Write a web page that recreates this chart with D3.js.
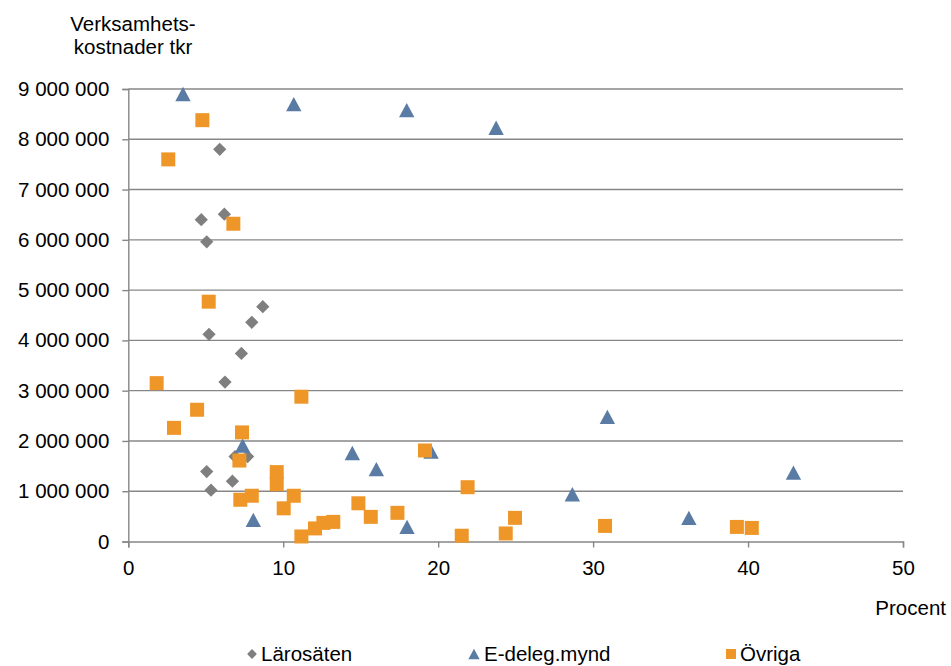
<!DOCTYPE html>
<html>
<head>
<meta charset="utf-8">
<script src="https://cdn.jsdelivr.net/npm/d3@7/dist/d3.min.js"></script>
<style>
  html, body { margin: 0; padding: 0; background: #ffffff; }
  svg { display: block; }
  text { font-family: "Liberation Sans", Arial, sans-serif; fill: #000; }
</style>
</head>
<body>
<svg id="chart" width="951" height="666"></svg>
<script>
// Universities (Lärosäten): share in percent vs. operating costs in tkr
const larosatenPct = [5.9, 4.71, 6.2, 5.06, 8.68, 7.97, 5.21, 7.3, 6.24, 6.89, 7.7, 5.06, 5.34, 6.72];
const larosatenCost = [7800000, 6400000, 6510000, 5960000, 4670000, 4360000, 4120000, 3740000, 3170000, 1690000, 1690000, 1390000, 1020000, 1200000];

// E-delegation agencies
const edelegPct = [3.53, 10.68, 17.97, 23.74, 30.92, 14.46, 16.01, 19.54, 7.38, 8.07, 17.99, 28.66, 36.18, 42.93];
const edelegCost = [8900000, 8700000, 8580000, 8230000, 2480000, 1760000, 1440000, 1790000, 1910000, 430000, 290000, 940000, 470000, 1370000];

// Other agencies (Övriga)
const ovrigaPct = [4.78, 2.58, 6.78, 5.19, 1.83, 11.17, 4.44, 2.95, 7.34, 7.17, 7.23, 7.97, 9.58, 9.58, 10.68, 10.03, 11.17, 12.05, 12.59, 13.23, 14.85, 15.65, 17.37, 19.15, 21.9, 21.52, 24.36, 24.96, 30.77, 39.28, 40.24];
const ovrigaCost = [8380000, 7600000, 6320000, 4770000, 3150000, 2880000, 2620000, 2260000, 2170000, 1610000, 830000, 910000, 1380000, 1140000, 910000, 660000, 100000, 260000, 370000, 390000, 760000, 490000, 570000, 1810000, 1080000, 115000, 160000, 470000, 310000, 290000, 270000];

const xTicks = [0, 10, 20, 30, 40, 50];
const yTicks = [0, 1000000, 2000000, 3000000, 4000000, 5000000, 6000000, 7000000, 8000000, 9000000];
const seriesNames = ["Lärosäten", "E-deleg.mynd", "Övriga"];
const yTitleLines = ["Verksamhets-", "kostnader tkr"];
const xTitle = "Procent";

const svg = d3.select("#chart");
const plot = { left: 128.3, right: 903, top: 89, bottom: 541.5 };

const x = d3.scaleLinear().domain([0, 50]).range([plot.left, plot.right]);
const y = d3.scaleLinear().domain([0, 9000000]).range([plot.bottom, plot.top]);

const sv = d3.formatLocale({ decimal: ",", thousands: "\u00a0", grouping: [3], currency: ["", ""] });
const fmt = sv.format(",d");

const gridColor = "#878787";
const fontSize = 20.5;

// Horizontal gridlines
svg.append("g")
  .selectAll("line")
  .data(yTicks.filter(d => d > 0))
  .join("line")
  .attr("x1", plot.left).attr("x2", plot.right)
  .attr("y1", d => y(d)).attr("y2", d => y(d))
  .attr("stroke", gridColor).attr("stroke-width", 1.4);

// Y axis
const yAxis = svg.append("g")
  .attr("transform", `translate(${plot.left},0)`)
  .call(d3.axisLeft(y).tickValues(yTicks).tickFormat(fmt).tickSize(6).tickPadding(13));
yAxis.select(".domain").attr("stroke", gridColor).attr("stroke-width", 1.4);
yAxis.selectAll(".tick line").attr("stroke", gridColor).attr("stroke-width", 1.4);
yAxis.selectAll(".tick text")
  .attr("font-size", fontSize)
  .attr("font-family", "'Liberation Sans', Arial, sans-serif")
  .attr("fill", "#000");

// X axis
const xAxis = svg.append("g")
  .attr("transform", `translate(0,${plot.bottom})`)
  .call(d3.axisBottom(x).tickValues(xTicks).tickFormat(d3.format("d")).tickSize(6).tickPadding(13));
xAxis.select(".domain").attr("stroke", gridColor).attr("stroke-width", 1.4);
xAxis.selectAll(".tick line").attr("stroke", gridColor).attr("stroke-width", 1.4);
xAxis.selectAll(".tick text")
  .attr("font-size", fontSize)
  .attr("font-family", "'Liberation Sans', Arial, sans-serif")
  .attr("fill", "#000");

// Axis titles
svg.append("text")
  .attr("x", 133).attr("y", 31)
  .attr("text-anchor", "middle")
  .attr("font-size", fontSize)
  .selectAll("tspan")
  .data(yTitleLines)
  .join("tspan")
  .attr("x", 133)
  .attr("dy", (d, i) => i === 0 ? 0 : 23)
  .text(d => d);

svg.append("text")
  .attr("x", 946).attr("y", 615)
  .attr("text-anchor", "end")
  .attr("font-size", fontSize)
  .text(xTitle);

// Marker shapes
const diamondType = {
  draw(ctx, size) {
    const r = Math.sqrt(size / 2);
    ctx.moveTo(0, -r); ctx.lineTo(r, 0); ctx.lineTo(0, r); ctx.lineTo(-r, 0); ctx.closePath();
  }
};
const triangleType = {
  draw(ctx, size) {
    const w = Math.sqrt(size * 2 * 15 / 14);
    const h = w * 14 / 15;
    ctx.moveTo(0, -h / 2); ctx.lineTo(w / 2, h / 2); ctx.lineTo(-w / 2, h / 2); ctx.closePath();
  }
};
const squareType = d3.symbolSquare;

const series = [
  { name: seriesNames[0], xs: larosatenPct, ys: larosatenCost, type: diamondType, size: 88, color: "#7f7f7f" },
  { name: seriesNames[1], xs: edelegPct, ys: edelegCost, type: triangleType, size: 110, color: "#5a7ba3" },
  { name: seriesNames[2], xs: ovrigaPct, ys: ovrigaCost, type: squareType, size: 196, color: "#ef9628" }
];

series.forEach(s => {
  const pts = s.xs.map((v, i) => [v, s.ys[i]]);
  svg.append("g")
    .selectAll("path")
    .data(pts)
    .join("path")
    .attr("transform", d => `translate(${x(d[0])},${y(d[1])})`)
    .attr("d", d3.symbol().type(s.type).size(s.size))
    .attr("fill", s.color);
});

// Legend
const legendY = 654;
const legendPos = [[252, 261], [474, 484], [731, 740]];
const legendSizes = [48, 60, 100];
const legend = svg.append("g");
series.forEach((s, i) => {
  legend.append("path")
    .attr("transform", `translate(${legendPos[i][0]},${legendY})`)
    .attr("d", d3.symbol().type(s.type).size(legendSizes[i]))
    .attr("fill", s.color);
  legend.append("text")
    .attr("x", legendPos[i][1]).attr("y", legendY)
    .attr("dy", "0.35em")
    .attr("font-size", fontSize)
    .text(s.name);
});
</script>
</body>
</html>
